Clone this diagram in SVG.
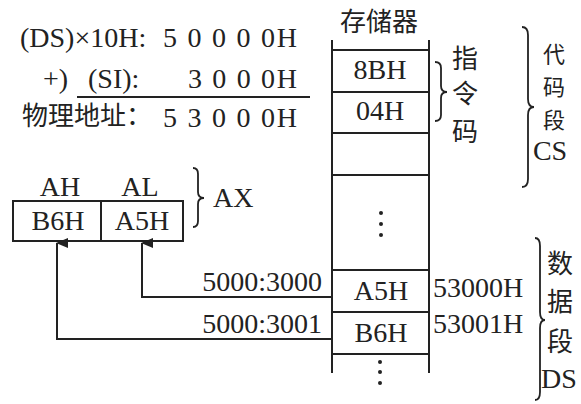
<svg xmlns="http://www.w3.org/2000/svg" width="581" height="404" viewBox="0 0 581 404">
<style>
.t{font-family:"Liberation Serif","Times New Roman",serif;font-size:28px;fill:#222}
.c{font-family:"Noto Sans CJK SC",sans-serif;font-size:26px;fill:#222}
.s{font-size:22px}
.m{text-anchor:middle}
.ln{stroke:#222;stroke-width:2;fill:none}
.br{stroke:#222;stroke-width:1.8;fill:none}
</style>
<defs>
<marker id="ah" markerWidth="10" markerHeight="12" refX="5" refY="1" orient="auto-start-reverse" markerUnits="userSpaceOnUse" viewBox="0 0 10 12">
<path d="M0,12 L5,0 L10,12 Z" fill="#222"/>
</marker>
</defs>
<rect width="581" height="404" fill="#fff"/>

<g id="calc">
<text class="t" x="20" y="47">(DS)×10H:</text>
<text class="t" x="163" y="47" textLength="134" lengthAdjust="spacing">5 0 0 0 0H</text>
<text class="t" x="43" y="88">+)</text>
<text class="t" x="88" y="88">(SI):</text>
<text class="t" x="188" y="88" textLength="109" lengthAdjust="spacing">3 0 0 0H</text>
<line class="ln" x1="77" y1="97" x2="310" y2="97"/>
<text class="c" x="22" y="125">物理地址：</text>
<text class="t" x="163" y="127" textLength="134" lengthAdjust="spacing">5 3 0 0 0H</text>
</g>

<g id="ax">
<text class="t m" x="60" y="196">AH</text>
<text class="t m" x="140" y="196">AL</text>
<rect class="ln" x="13" y="201" width="170" height="40"/>
<line class="ln" x1="101" y1="201" x2="101" y2="241"/>
<text class="t m" x="58" y="230">B6H</text>
<text class="t m" x="142" y="230">A5H</text>
<path class="br" d="M193,168 Q198,168 198,174 L198,192 Q198,198 204,198 Q198,198 198,204 L198,221 Q198,227 193,227"/>
<text class="t" x="213" y="207">AX</text>
</g>

<g id="memory">
<text class="c m" x="379" y="31">存储器</text>
<line class="ln" x1="332" y1="40" x2="332" y2="373"/>
<line class="ln" x1="429" y1="40" x2="429" y2="373"/>
<line class="ln" x1="332" y1="50" x2="429" y2="50"/>
<line class="ln" x1="332" y1="92" x2="429" y2="92"/>
<line class="ln" x1="332" y1="133" x2="429" y2="133"/>
<line class="ln" x1="332" y1="175" x2="429" y2="175"/>
<line class="ln" x1="332" y1="270" x2="429" y2="270"/>
<line class="ln" x1="332" y1="312" x2="429" y2="312"/>
<line class="ln" x1="332" y1="354" x2="429" y2="354"/>
<text class="t m" x="380" y="79">8BH</text>
<text class="t m" x="380" y="120">04H</text>
<circle cx="381" cy="213" r="2" fill="#222"/>
<circle cx="381" cy="224" r="2" fill="#222"/>
<circle cx="381" cy="235" r="2" fill="#222"/>
<text class="t m" x="381" y="300">A5H</text>
<text class="t m" x="381" y="342">B6H</text>
<circle cx="380" cy="362" r="2" fill="#222"/>
<circle cx="380" cy="372" r="2" fill="#222"/>
<circle cx="380" cy="383" r="2" fill="#222"/>
<text class="t" x="433" y="297">53000H</text>
<text class="t" x="433" y="333">53001H</text>
</g>

<g id="instr">
<path class="br" d="M435,62 Q441,62 441,68 L441,86 Q441,92 447,92 Q441,92 441,98 L441,115 Q441,121 435,121"/>
<text class="c m" x="465" y="68">指</text>
<text class="c m" x="465" y="103">令</text>
<text class="c m" x="465" y="141">码</text>
</g>

<g id="cs">
<path class="br" d="M522,27 Q528,27 528,35 L528,99 Q528,107 534,107 Q528,107 528,115 L528,179 Q528,187 522,187"/>
<text class="c s m" x="554" y="62">代</text>
<text class="c s m" x="554" y="95">码</text>
<text class="c s m" x="554" y="128">段</text>
<text class="t m" x="550" y="160">CS</text>
</g>

<g id="ds">
<path class="br" d="M535,238 Q540,238 540,246 L540,312 Q540,320 545,320 Q540,320 540,328 L540,392 Q540,400 535,400"/>
<text class="c m" x="560" y="273">数</text>
<text class="c m" x="560" y="311">据</text>
<text class="c m" x="560" y="351">段</text>
<text class="t m" x="559" y="388">DS</text>
</g>

<g id="connectors">
<text class="t" x="322" y="291" text-anchor="end">5000:3000</text>
<text class="t" x="322" y="333" text-anchor="end">5000:3001</text>
<polyline class="ln" points="332,297 142,297 142,243" marker-end="url(#ah)"/>
<polyline class="ln" points="332,339 57,339 57,243" marker-end="url(#ah)"/>
</g>
</svg>
